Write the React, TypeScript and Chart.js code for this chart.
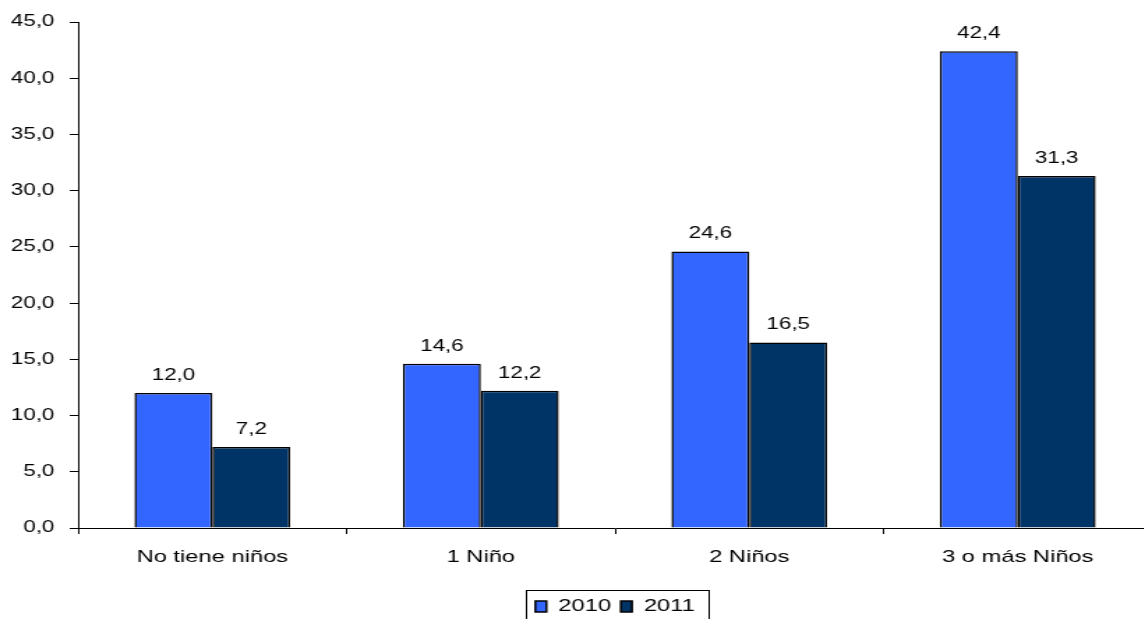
import React, { useEffect, useRef } from "react";
import { Chart, registerables } from "chart.js";

Chart.register(...registerables);

const categories = ["No tiene niños", "1 Niño", "2 Niños", "3 o más Niños"];
const seriesNames = ["2010", "2011"];
const values2010 = [12.0, 14.6, 24.6, 42.4];
const values2011 = [7.2, 12.2, 16.5, 31.3];
const seriesColors = ["#3366FF", "#003366"];
const yMin = 0;
const yMax = 45;
const yStep = 5;

const FONT = '"Liberation Sans", Arial, Helvetica, sans-serif';
const fmt = (v: number) => v.toFixed(1).replace(".", ",");

const valueLabels = {
  id: "valueLabels",
  afterDatasetsDraw(chart: any) {
    const ctx = chart.ctx;
    ctx.save();
    ctx.font = `16px ${FONT}`;
    ctx.fillStyle = "#000";
    ctx.textAlign = "center";
    ctx.textBaseline = "alphabetic";
    chart.data.datasets.forEach((ds: any, i: number) => {
      const meta = chart.getDatasetMeta(i);
      meta.data.forEach((bar: any, j: number) => {
        ctx.fillText(fmt(ds.data[j] as number), bar.x, bar.y - 13);
      });
    });
    ctx.restore();
  },
};

const legendFrame = {
  id: "legendFrame",
  afterDraw(chart: any) {
    const lg = chart.legend;
    if (!lg || !lg.legendHitBoxes || !lg.legendHitBoxes.length) return;
    const boxes = lg.legendHitBoxes;
    const left = Math.min(...boxes.map((b: any) => b.left)) - 7;
    const right = Math.max(...boxes.map((b: any) => b.left + b.width)) + 10;
    const cy = boxes[0].top + boxes[0].height / 2;
    const ctx = chart.ctx;
    ctx.save();
    ctx.strokeStyle = "#000";
    ctx.lineWidth = 1;
    ctx.strokeRect(Math.round(left) + 0.5, Math.round(cy - 17) + 0.5, Math.round(right - left), 40);
    ctx.restore();
  },
};

export default function App() {
  const ref = useRef<HTMLCanvasElement | null>(null);

  useEffect(() => {
    if (!ref.current) return;
    Chart.defaults.font.family = FONT;
    Chart.defaults.color = "#000";
    const chart = new Chart(ref.current, {
      type: "bar",
      data: {
        labels: categories,
        datasets: [
          {
            label: seriesNames[0],
            data: values2010,
            backgroundColor: seriesColors[0],
            borderColor: "#000",
            borderWidth: 1.5,
            barPercentage: 1,
            categoryPercentage: 0.58,
          },
          {
            label: seriesNames[1],
            data: values2011,
            backgroundColor: seriesColors[1],
            borderColor: "#000",
            borderWidth: 1.5,
            barPercentage: 1,
            categoryPercentage: 0.58,
          },
        ],
      },
      options: {
        responsive: false,
        animation: false,
        devicePixelRatio: 1,
        layout: { padding: { top: 22, bottom: -6, left: 0, right: 0 } },
        plugins: {
          tooltip: { enabled: false },
          title: { display: false },
          legend: {
            display: true,
            position: "bottom",
            fullSize: false,
            labels: {
              boxWidth: 8,
              boxHeight: 11,
              padding: 7,
              color: "#000",
              font: { size: 17, family: FONT },
            },
          },
        },
        scales: {
          x: {
            grid: {
              display: true,
              drawOnChartArea: false,
              drawTicks: true,
              tickLength: 6,
              color: "#000",
              offset: true,
            },
            border: { display: true, color: "#000", width: 1 },
            ticks: {
              color: "#000",
              padding: 13,
              maxRotation: 0,
              autoSkip: false,
              font: { size: 17, family: FONT },
            },
            afterFit: (scale: any) => {
              scale.height = 63;
            },
          },
          y: {
            min: yMin,
            max: yMax,
            grid: {
              display: true,
              drawOnChartArea: false,
              drawTicks: true,
              tickLength: 6,
              color: "#000",
            },
            border: { display: true, color: "#000", width: 1 },
            ticks: {
              stepSize: yStep,
              color: "#000",
              padding: 11,
              font: { size: 16, family: FONT },
              callback: (v: any) => fmt(Number(v)),
            },
            afterFit: (scale: any) => {
              scale.width = 56;
            },
          },
        },
      },
      plugins: [valueLabels, legendFrame],
    });
    return () => chart.destroy();
  }, []);

  return (
    <div
      style={{
        position: "absolute",
        left: 0,
        top: 0,
        width: 1144,
        height: 619,
        overflow: "hidden",
        background: "#fff",
      }}
    >
      <canvas
        ref={ref}
        width={826}
        height={619}
        style={{ width: "1152px", height: "619px", display: "block" }}
      />
    </div>
  );
}
